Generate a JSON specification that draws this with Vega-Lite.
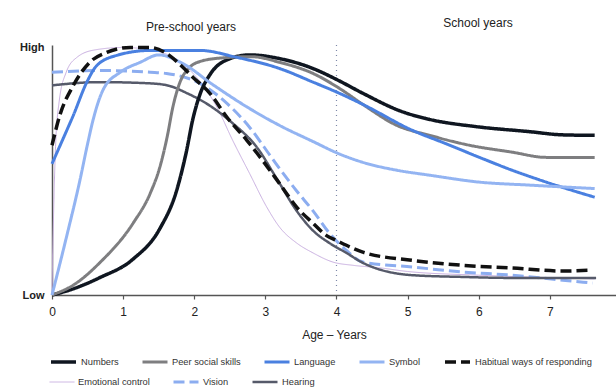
{
  "$schema": "https://vega.github.io/schema/vega-lite/v6.json",
  "width": 564,
  "height": 250,
  "autosize": {"type": "none"},
  "padding": {"left": 52, "top": 45, "right": 0, "bottom": 94},
  "background": "white",
  "config": {
    "view": {"stroke": null},
    "font": "Liberation Sans",
    "legend": {"symbolType": "stroke", "symbolSize": 625, "clipHeight": 12, "columnPadding": 22, "labelFontSize": 9.3, "labelColor": "#333", "labelOffset": 3, "title": null, "direction": "horizontal", "orient": "none"},
    "axisX": {"domainColor": "#555", "domainWidth": 1.5, "tickColor": "#555", "tickSize": 4, "tickWidth": 1.2, "labelFontSize": 12, "labelColor": "#222", "labelPadding": 7, "labelFlush": false, "titleFontSize": 12, "titleFontWeight": "normal", "titleColor": "#222", "titlePadding": 12, "grid": false},
    "axisY": {"domainColor": "#555", "domainWidth": 1.5, "ticks": false, "labelFontSize": 11, "labelFontWeight": "bold", "labelColor": "#222", "labelPadding": 8, "labelFlush": false, "grid": false}
  },
  "datasets": {
    "curves": [
      {"s": "Numbers", "age": 0, "v": 0}, {"s": "Numbers", "age": 0.3, "v": 2.5}, {"s": "Numbers", "age": 0.67, "v": 7}, {"s": "Numbers", "age": 1.14, "v": 14.5}, {"s": "Numbers", "age": 1.52, "v": 27}, {"s": "Numbers", "age": 1.75, "v": 42}, {"s": "Numbers", "age": 1.89, "v": 58}, {"s": "Numbers", "age": 1.98, "v": 71}, {"s": "Numbers", "age": 2.08, "v": 81}, {"s": "Numbers", "age": 2.22, "v": 89}, {"s": "Numbers", "age": 2.46, "v": 95}, {"s": "Numbers", "age": 2.78, "v": 97}, {"s": "Numbers", "age": 3.2, "v": 95.5}, {"s": "Numbers", "age": 3.67, "v": 91.5}, {"s": "Numbers", "age": 4.04, "v": 86.5}, {"s": "Numbers", "age": 4.37, "v": 81.5}, {"s": "Numbers", "age": 4.93, "v": 74}, {"s": "Numbers", "age": 5.3, "v": 71}, {"s": "Numbers", "age": 5.97, "v": 68}, {"s": "Numbers", "age": 6.71, "v": 66}, {"s": "Numbers", "age": 7.18, "v": 64.7}, {"s": "Numbers", "age": 7.63, "v": 64.5},

      {"s": "Peer social skills", "age": 0, "v": 0}, {"s": "Peer social skills", "age": 0.3, "v": 4}, {"s": "Peer social skills", "age": 0.67, "v": 13}, {"s": "Peer social skills", "age": 1.14, "v": 29}, {"s": "Peer social skills", "age": 1.38, "v": 41}, {"s": "Peer social skills", "age": 1.52, "v": 52}, {"s": "Peer social skills", "age": 1.62, "v": 64}, {"s": "Peer social skills", "age": 1.7, "v": 76}, {"s": "Peer social skills", "age": 1.8, "v": 86}, {"s": "Peer social skills", "age": 1.92, "v": 91.5}, {"s": "Peer social skills", "age": 2.1, "v": 94.5}, {"s": "Peer social skills", "age": 2.4, "v": 95.8}, {"s": "Peer social skills", "age": 2.8, "v": 96.3}, {"s": "Peer social skills", "age": 3.2, "v": 94}, {"s": "Peer social skills", "age": 3.67, "v": 89.5}, {"s": "Peer social skills", "age": 4.04, "v": 83.5}, {"s": "Peer social skills", "age": 4.37, "v": 77}, {"s": "Peer social skills", "age": 4.85, "v": 68.5}, {"s": "Peer social skills", "age": 5.31, "v": 64.5}, {"s": "Peer social skills", "age": 5.87, "v": 60.5}, {"s": "Peer social skills", "age": 6.47, "v": 57.7}, {"s": "Peer social skills", "age": 6.95, "v": 55.6}, {"s": "Peer social skills", "age": 7.63, "v": 55.6},

      {"s": "Language", "age": 0, "v": 53}, {"s": "Language", "age": 0.1, "v": 59.5}, {"s": "Language", "age": 0.2, "v": 66}, {"s": "Language", "age": 0.3, "v": 72.6}, {"s": "Language", "age": 0.49, "v": 86}, {"s": "Language", "age": 0.63, "v": 92.7}, {"s": "Language", "age": 0.91, "v": 96.8}, {"s": "Language", "age": 1.38, "v": 98.8}, {"s": "Language", "age": 2.08, "v": 98.8}, {"s": "Language", "age": 2.6, "v": 96}, {"s": "Language", "age": 3.2, "v": 91.5}, {"s": "Language", "age": 3.67, "v": 86}, {"s": "Language", "age": 4.04, "v": 81.5}, {"s": "Language", "age": 4.37, "v": 77}, {"s": "Language", "age": 5.07, "v": 66.5}, {"s": "Language", "age": 5.55, "v": 61}, {"s": "Language", "age": 6.01, "v": 55.6}, {"s": "Language", "age": 6.47, "v": 50.4}, {"s": "Language", "age": 6.95, "v": 45.6}, {"s": "Language", "age": 7.63, "v": 39.5},

      {"s": "Symbol", "age": 0, "v": 0}, {"s": "Symbol", "age": 0.2, "v": 23}, {"s": "Symbol", "age": 0.39, "v": 46}, {"s": "Symbol", "age": 0.5, "v": 61}, {"s": "Symbol", "age": 0.58, "v": 71}, {"s": "Symbol", "age": 0.72, "v": 83}, {"s": "Symbol", "age": 0.96, "v": 90}, {"s": "Symbol", "age": 1.24, "v": 94}, {"s": "Symbol", "age": 1.5, "v": 97}, {"s": "Symbol", "age": 1.84, "v": 93.5}, {"s": "Symbol", "age": 2.26, "v": 85}, {"s": "Symbol", "age": 2.74, "v": 76}, {"s": "Symbol", "age": 3.2, "v": 68.5}, {"s": "Symbol", "age": 3.67, "v": 62}, {"s": "Symbol", "age": 4.04, "v": 57}, {"s": "Symbol", "age": 4.37, "v": 53.6}, {"s": "Symbol", "age": 4.85, "v": 50.4}, {"s": "Symbol", "age": 5.31, "v": 48.4}, {"s": "Symbol", "age": 6.01, "v": 45.6}, {"s": "Symbol", "age": 6.71, "v": 44.4}, {"s": "Symbol", "age": 7.63, "v": 43},

      {"s": "Habitual ways of responding", "age": 0, "v": 60.5}, {"s": "Habitual ways of responding", "age": 0.11, "v": 72.6}, {"s": "Habitual ways of responding", "age": 0.3, "v": 84.7}, {"s": "Habitual ways of responding", "age": 0.53, "v": 94}, {"s": "Habitual ways of responding", "age": 0.77, "v": 98}, {"s": "Habitual ways of responding", "age": 1.1, "v": 100}, {"s": "Habitual ways of responding", "age": 1.38, "v": 100}, {"s": "Habitual ways of responding", "age": 1.61, "v": 97.6}, {"s": "Habitual ways of responding", "age": 1.84, "v": 92}, {"s": "Habitual ways of responding", "age": 1.98, "v": 88}, {"s": "Habitual ways of responding", "age": 2.22, "v": 81.5}, {"s": "Habitual ways of responding", "age": 2.46, "v": 71.8}, {"s": "Habitual ways of responding", "age": 2.74, "v": 62.5}, {"s": "Habitual ways of responding", "age": 2.96, "v": 54.4}, {"s": "Habitual ways of responding", "age": 3.2, "v": 45}, {"s": "Habitual ways of responding", "age": 3.44, "v": 35.5}, {"s": "Habitual ways of responding", "age": 3.67, "v": 29}, {"s": "Habitual ways of responding", "age": 3.86, "v": 24}, {"s": "Habitual ways of responding", "age": 4.0, "v": 22}, {"s": "Habitual ways of responding", "age": 4.37, "v": 17.3}, {"s": "Habitual ways of responding", "age": 5.07, "v": 14}, {"s": "Habitual ways of responding", "age": 5.77, "v": 12}, {"s": "Habitual ways of responding", "age": 6.47, "v": 10.9}, {"s": "Habitual ways of responding", "age": 7.18, "v": 9.7}, {"s": "Habitual ways of responding", "age": 7.56, "v": 10},

      {"s": "Emotional control", "age": 0, "v": 0}, {"s": "Emotional control", "age": 0.02, "v": 30}, {"s": "Emotional control", "age": 0.05, "v": 60}, {"s": "Emotional control", "age": 0.1, "v": 78}, {"s": "Emotional control", "age": 0.2, "v": 90}, {"s": "Emotional control", "age": 0.35, "v": 96}, {"s": "Emotional control", "age": 0.6, "v": 99}, {"s": "Emotional control", "age": 1.0, "v": 100}, {"s": "Emotional control", "age": 1.4, "v": 99}, {"s": "Emotional control", "age": 1.7, "v": 96}, {"s": "Emotional control", "age": 2.0, "v": 89}, {"s": "Emotional control", "age": 2.32, "v": 75.8}, {"s": "Emotional control", "age": 2.54, "v": 62.5}, {"s": "Emotional control", "age": 2.78, "v": 49}, {"s": "Emotional control", "age": 3.02, "v": 35.5}, {"s": "Emotional control", "age": 3.2, "v": 27.4}, {"s": "Emotional control", "age": 3.44, "v": 21}, {"s": "Emotional control", "age": 3.67, "v": 17}, {"s": "Emotional control", "age": 3.95, "v": 13.3}, {"s": "Emotional control", "age": 4.23, "v": 12}, {"s": "Emotional control", "age": 4.6, "v": 11}, {"s": "Emotional control", "age": 5.0, "v": 9.5}, {"s": "Emotional control", "age": 6.0, "v": 8}, {"s": "Emotional control", "age": 7.0, "v": 7}, {"s": "Emotional control", "age": 7.63, "v": 6.5},

      {"s": "Vision", "age": 0, "v": 90}, {"s": "Vision", "age": 0.7, "v": 90.7}, {"s": "Vision", "age": 1.38, "v": 90}, {"s": "Vision", "age": 1.61, "v": 89.5}, {"s": "Vision", "age": 2.08, "v": 85.5}, {"s": "Vision", "age": 2.46, "v": 77.4}, {"s": "Vision", "age": 2.78, "v": 67.7}, {"s": "Vision", "age": 3.1, "v": 55}, {"s": "Vision", "age": 3.44, "v": 42}, {"s": "Vision", "age": 3.67, "v": 34}, {"s": "Vision", "age": 3.9, "v": 25}, {"s": "Vision", "age": 4.14, "v": 18}, {"s": "Vision", "age": 4.37, "v": 13.3}, {"s": "Vision", "age": 5.07, "v": 11.3}, {"s": "Vision", "age": 5.77, "v": 9.3}, {"s": "Vision", "age": 6.47, "v": 8}, {"s": "Vision", "age": 7.18, "v": 6}, {"s": "Vision", "age": 7.6, "v": 4.8},

      {"s": "Hearing", "age": 0, "v": 84.7}, {"s": "Hearing", "age": 0.67, "v": 86}, {"s": "Hearing", "age": 1.38, "v": 85.5}, {"s": "Hearing", "age": 1.65, "v": 84.5}, {"s": "Hearing", "age": 1.9, "v": 81.5}, {"s": "Hearing", "age": 2.17, "v": 77.4}, {"s": "Hearing", "age": 2.54, "v": 69.4}, {"s": "Hearing", "age": 2.88, "v": 59.7}, {"s": "Hearing", "age": 3.16, "v": 47}, {"s": "Hearing", "age": 3.44, "v": 34}, {"s": "Hearing", "age": 3.67, "v": 26}, {"s": "Hearing", "age": 3.9, "v": 21}, {"s": "Hearing", "age": 4.14, "v": 17}, {"s": "Hearing", "age": 4.37, "v": 13}, {"s": "Hearing", "age": 5.07, "v": 8}, {"s": "Hearing", "age": 5.77, "v": 7.3}, {"s": "Hearing", "age": 6.47, "v": 6.9}, {"s": "Hearing", "age": 7.65, "v": 6.9}
    ]
  },
  "resolve": {
    "scale": {"color": "independent", "stroke": "independent", "strokeDash": "independent", "strokeWidth": "independent"},
    "legend": {"color": "independent", "stroke": "independent", "strokeDash": "independent", "strokeWidth": "independent"}
  },
  "layer": [
    {
      "data": {"values": [{"age": 4, "top": 101, "bottom": 0}]},
      "mark": {"type": "rule", "color": "#7d88a8", "strokeDash": [1, 4], "strokeWidth": 1.2},
      "encoding": {
        "x": {"field": "age", "type": "quantitative"},
        "y": {"field": "top", "type": "quantitative"},
        "y2": {"field": "bottom"}
      }
    },
    {
      "data": {"values": [{"label": "Pre-school years"}]},
      "mark": {"type": "text", "fontSize": 12, "color": "#222", "baseline": "alphabetic", "align": "center"},
      "encoding": {
        "x": {"datum": 1.954, "type": "quantitative"},
        "y": {"datum": 106.7, "type": "quantitative"},
        "text": {"field": "label"}
      }
    },
    {
      "data": {"values": [{"label": "School years"}]},
      "mark": {"type": "text", "fontSize": 12, "color": "#222", "baseline": "alphabetic", "align": "center"},
      "encoding": {
        "x": {"datum": 5.99, "type": "quantitative"},
        "y": {"datum": 108.3, "type": "quantitative"},
        "text": {"field": "label"}
      }
    },
    {
      "data": {"name": "curves"},
      "transform": [{"filter": {"field": "s", "oneOf": ["Emotional control", "Vision", "Hearing"]}}],
      "mark": {"type": "line", "interpolate": "monotone", "strokeCap": "butt"},
      "encoding": {
        "x": {"field": "age", "type": "quantitative"},
        "y": {"field": "v", "type": "quantitative"},
        "stroke": {
          "field": "s", "type": "nominal",
          "scale": {"domain": ["Emotional control", "Vision", "Hearing"], "range": ["#c8aee0", "#8cadf0", "#565a6a"]},
          "legend": {"orient": "none", "legendX": -3, "legendY": 331}
        },
        "strokeDash": {
          "field": "s", "type": "nominal",
          "scale": {"domain": ["Emotional control", "Vision", "Hearing"], "range": [[1, 0], [11, 5], [1, 0]]}
        },
        "strokeWidth": {
          "field": "s", "type": "nominal",
          "scale": {"type": "ordinal", "domain": ["Emotional control", "Vision", "Hearing"], "range": [1, 3, 2.5]}
        }
      }
    },
    {
      "data": {"name": "curves"},
      "transform": [{"filter": {"field": "s", "oneOf": ["Numbers", "Peer social skills", "Language", "Symbol", "Habitual ways of responding"]}}],
      "mark": {"type": "line", "interpolate": "monotone", "strokeCap": "butt"},
      "encoding": {
        "x": {
          "field": "age", "type": "quantitative",
          "scale": {"domain": [0, 7.93], "nice": false, "zero": false},
          "axis": {"values": [0, 1, 2, 3, 4, 5, 6, 7], "format": "d", "title": "Age – Years"}
        },
        "y": {
          "field": "v", "type": "quantitative",
          "scale": {"domain": [0, 101], "nice": false},
          "axis": {"values": [0, 100], "labelExpr": "datum.value > 50 ? 'High' : 'Low'", "title": null}
        },
        "color": {
          "field": "s", "type": "nominal",
          "scale": {
            "domain": ["Numbers", "Peer social skills", "Language", "Symbol", "Habitual ways of responding"],
            "range": ["#0f1620", "#7e7e80", "#4a80e0", "#93b4f2", "#111111"]
          },
          "legend": {"orient": "none", "legendX": -3, "legendY": 311}
        },
        "strokeDash": {
          "field": "s", "type": "nominal",
          "scale": {
            "domain": ["Numbers", "Peer social skills", "Language", "Symbol", "Habitual ways of responding"],
            "range": [[1, 0], [1, 0], [1, 0], [1, 0], [11, 5]]
          }
        },
        "strokeWidth": {
          "field": "s", "type": "nominal",
          "scale": {"type": "ordinal", "domain": ["Numbers", "Peer social skills", "Language", "Symbol", "Habitual ways of responding"], "range": [3.5, 3, 3, 3, 3.5]}
        }
      }
    }
  ]
}
